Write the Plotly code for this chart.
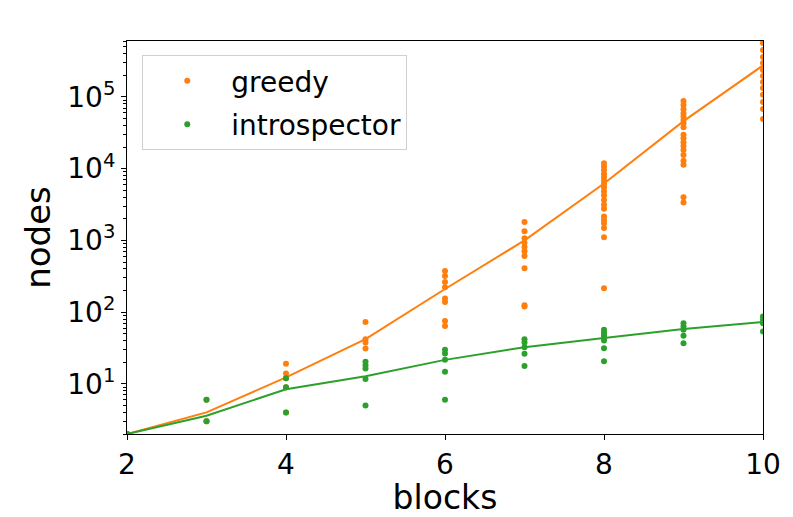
import plotly.graph_objects as go
import numpy as np

# Scatter samples (nodes explored) per number of blocks
greedy_pts = {
    2: [2, 2],
    3: [3, 6, 3],
    4: [19, 14, 12, 9, 4],
    5: [73, 42, 37.6, 31],
    6: [376, 320, 263, 223, 155, 139, 75, 64],
    7: [1810, 1340, 1070, 930, 811, 707, 608, 410, 125, 120],
    8: [11900, 10700, 9600, 8460, 7600, 6820, 6140, 5510, 4850, 4270,
        3670, 3150, 2770, 2150, 1930, 1740, 1490, 1110, 216],
    9: [88000, 77300, 67300, 59300, 53200, 47800, 42900, 37800, 29800,
        26600, 23400, 20700, 18200, 15500, 12900, 11300, 4000, 3370],
    10: [566000, 452000, 361000, 298000, 238000, 196000, 162000, 133000,
         107000, 85000, 68000, 49300],
}
intro_pts = {
    2: [2, 2],
    3: [6, 3],
    4: [12, 9, 4],
    5: [20.3, 18.2, 16.4, 11.7, 5],
    6: [29.8, 26.5, 21.6, 14.7, 6],
    7: [42, 37.7, 32.5, 26.2, 17.8],
    8: [56.6, 51.9, 47.7, 43.8, 40.1, 31.4, 20.7],
    9: [70, 63, 56.6, 46.7, 36.9],
    10: [86.7, 78, 70, 53.6],
}

# Mean curves
blocks = [2, 3, 4, 5, 6, 7, 8, 9, 10]
greedy_mean = [2, 4, 12.3, 42, 210, 1000, 6200, 46000, 275000]
intro_mean = [2, 3.6, 8.4, 12.8, 21.6, 32.5, 43.5, 58, 73]

x_ticks = [2, 4, 6, 8, 10]
y_ticks = [10, 100, 1000, 10000, 100000]
y_ticktext = ["10<sup>1</sup>", "10<sup>2</sup>", "10<sup>3</sup>",
              "10<sup>4</sup>", "10<sup>5</sup>"]

ORANGE = "#ff7f0e"
GREEN = "#2ca02c"

def flat(d):
    xs, ys = [], []
    for k, v in d.items():
        xs += [k] * len(v)
        ys += v
    return xs, ys

gx, gy = flat(greedy_pts)
ix, iy = flat(intro_pts)

fig = go.Figure()
fig.add_trace(go.Scatter(x=gx, y=gy, mode="markers", name="greedy", legendgroup="g",
                         marker=dict(color=ORANGE, size=6)))
fig.add_trace(go.Scatter(x=blocks, y=greedy_mean, mode="lines", showlegend=False,
                         legendgroup="g", line=dict(color=ORANGE, width=2)))
fig.add_trace(go.Scatter(x=ix, y=iy, mode="markers", name="introspector", legendgroup="i",
                         marker=dict(color=GREEN, size=6)))
fig.add_trace(go.Scatter(x=blocks, y=intro_mean, mode="lines", showlegend=False,
                         legendgroup="i", line=dict(color=GREEN, width=2)))

fig.update_layout(
    width=785, height=509,
    margin=dict(l=119, r=30, t=33, b=83),
    plot_bgcolor="white", paper_bgcolor="white",
    font=dict(family="DejaVu Sans", size=28, color="black"),
    legend=dict(x=0.024, y=0.964, xanchor="left", yanchor="top",
                bordercolor="#d0d0d0", borderwidth=1, bgcolor="white",
                font=dict(size=28), itemwidth=78,
                tracegroupgap=4),
    showlegend=True,
)
fig.update_xaxes(
    range=[2, 10], tickvals=x_ticks,
    title=dict(text="blocks", font=dict(size=33), standoff=0),
    showline=True, linecolor="black", linewidth=1, mirror=True,
    ticks="outside", ticklen=5, tickcolor="black", showgrid=False, zeroline=False,
)
fig.update_yaxes(
    type="log", range=[np.log10(2), 5.78],
    tickvals=y_ticks, ticktext=y_ticktext,
    title=dict(text="nodes", font=dict(size=34), standoff=6),
    showline=True, linecolor="black", linewidth=1, mirror=True,
    ticks="outside", ticklen=5, tickcolor="black", showgrid=False, zeroline=False,
    minor=dict(ticks="outside", ticklen=3, tickcolor="black", dtick="D1", showgrid=False),
)

fig.write_html("out.html")
